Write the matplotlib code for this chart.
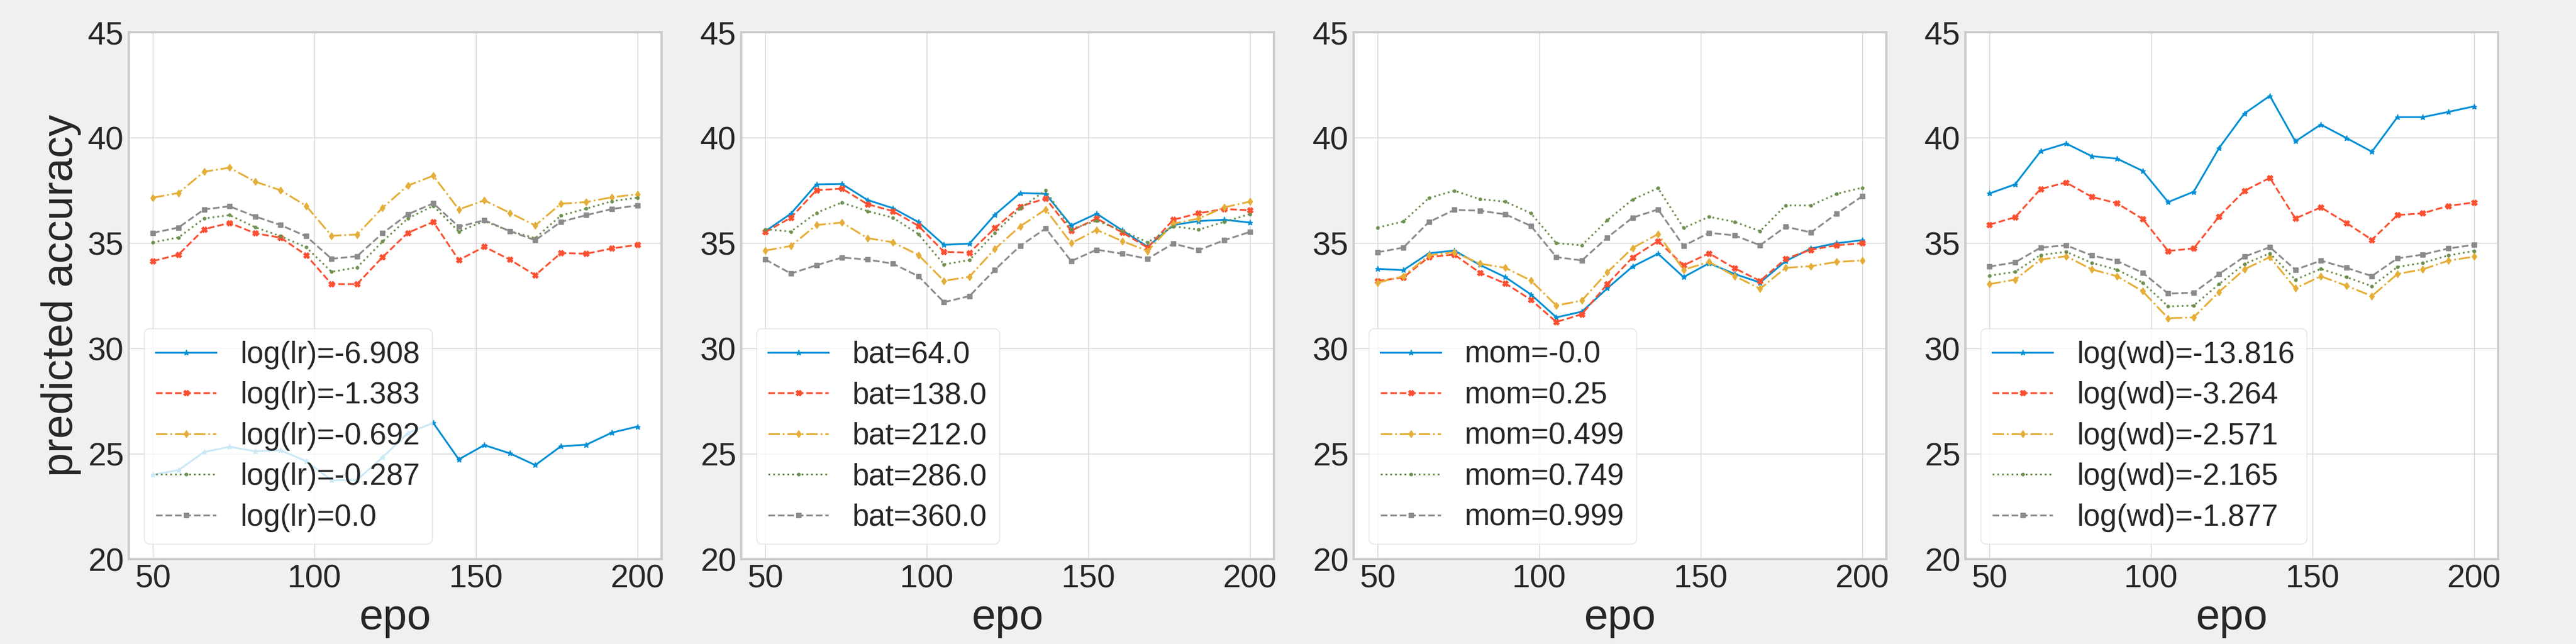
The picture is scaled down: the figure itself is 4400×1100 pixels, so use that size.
import matplotlib
matplotlib.use("Agg")
import matplotlib.pyplot as plt

plt.rcParams['font.family'] = ['Liberation Sans', 'DejaVu Sans']

epochs = [50, 57.9, 65.8, 73.7, 81.6, 89.5, 97.4, 105.3, 113.2, 121.1,
          128.9, 136.8, 144.7, 152.6, 160.5, 168.4, 176.3, 184.2, 192.1, 200]

# Panel 1: learning rate
lr_labels = ["log(lr)=-6.908", "log(lr)=-1.383", "log(lr)=-0.692", "log(lr)=-0.287", "log(lr)=0.0"]
lr_m6908 = [24.01, 24.22, 25.08, 25.33, 25.12, 25.16, 24.65, 23.74, 23.76, 24.83,
            25.98, 26.46, 24.73, 25.41, 25.02, 24.46, 25.35, 25.43, 26.00, 26.29]
lr_m1383 = [34.14, 34.45, 35.65, 35.95, 35.46, 35.25, 34.43, 33.05, 33.05, 34.33,
            35.48, 36.00, 34.19, 34.82, 34.21, 33.47, 34.52, 34.49, 34.74, 34.91]
lr_m0692 = [37.15, 37.37, 38.38, 38.57, 37.91, 37.50, 36.76, 35.34, 35.40, 36.67,
            37.72, 38.19, 36.59, 37.02, 36.43, 35.83, 36.86, 36.94, 37.17, 37.31]
lr_m0287 = [35.03, 35.26, 36.16, 36.32, 35.75, 35.32, 34.80, 33.63, 33.84, 35.07,
            36.16, 36.76, 35.54, 36.04, 35.56, 35.23, 36.30, 36.63, 36.98, 37.15]
lr_0 = [35.48, 35.73, 36.59, 36.74, 36.26, 35.85, 35.32, 34.25, 34.37, 35.46,
        36.36, 36.88, 35.77, 36.08, 35.56, 35.13, 36.00, 36.32, 36.61, 36.78]

# Panel 2: batch size
bat_labels = ["bat=64.0", "bat=138.0", "bat=212.0", "bat=286.0", "bat=360.0"]
bat_64 = [35.56, 36.39, 37.78, 37.80, 37.04, 36.65, 35.99, 34.91, 34.97, 36.34,
          37.37, 37.33, 35.83, 36.39, 35.60, 34.82, 35.85, 36.04, 36.10, 35.97]
bat_138 = [35.52, 36.20, 37.50, 37.58, 36.84, 36.51, 35.81, 34.58, 34.54, 35.71,
           36.73, 37.11, 35.58, 36.16, 35.50, 34.78, 36.10, 36.41, 36.61, 36.55]
bat_212 = [34.64, 34.86, 35.85, 35.97, 35.23, 35.03, 34.43, 33.20, 33.40, 34.72,
           35.79, 36.59, 34.99, 35.62, 35.09, 34.62, 35.91, 36.16, 36.69, 36.96]
bat_286 = [35.65, 35.54, 36.43, 36.92, 36.51, 36.20, 35.42, 33.98, 34.19, 35.48,
           36.63, 37.50, 35.65, 36.06, 35.58, 35.03, 35.79, 35.63, 36.00, 36.37]
bat_360 = [34.21, 33.55, 33.94, 34.31, 34.21, 34.02, 33.42, 32.19, 32.48, 33.73,
           34.86, 35.69, 34.14, 34.68, 34.49, 34.25, 34.97, 34.66, 35.13, 35.52]

# Panel 3: momentum
mom_labels = ["mom=-0.0", "mom=0.25", "mom=0.499", "mom=0.749", "mom=0.999"]
mom_0 = [33.77, 33.71, 34.51, 34.64, 33.96, 33.38, 32.56, 31.47, 31.74, 32.85,
         33.88, 34.49, 33.38, 34.04, 33.53, 33.12, 34.14, 34.74, 34.99, 35.13]
mom_025 = [33.20, 33.36, 34.33, 34.45, 33.59, 33.08, 32.31, 31.25, 31.62, 33.05,
           34.31, 35.09, 33.94, 34.51, 33.80, 33.20, 34.25, 34.68, 34.89, 34.99]
mom_0499 = [33.12, 33.42, 34.41, 34.56, 34.02, 33.82, 33.22, 32.03, 32.27, 33.61,
            34.76, 35.42, 33.73, 34.10, 33.43, 32.83, 33.82, 33.90, 34.10, 34.17]
mom_0749 = [35.73, 36.02, 37.13, 37.48, 37.08, 36.96, 36.41, 34.99, 34.89, 36.08,
            37.06, 37.60, 35.71, 36.24, 36.00, 35.56, 36.78, 36.78, 37.33, 37.62]
mom_0999 = [34.56, 34.78, 35.99, 36.57, 36.53, 36.36, 35.81, 34.33, 34.17, 35.26,
            36.20, 36.59, 34.86, 35.48, 35.36, 34.89, 35.77, 35.50, 36.39, 37.21]

# Panel 4: weight decay
wd_labels = ["log(wd)=-13.816", "log(wd)=-3.264", "log(wd)=-2.571", "log(wd)=-2.165", "log(wd)=-1.877"]
wd_m13816 = [37.35, 37.78, 39.35, 39.72, 39.12, 39.00, 38.42, 36.94, 37.43, 39.51,
             41.14, 41.98, 39.82, 40.62, 39.98, 39.33, 40.97, 40.97, 41.22, 41.48]
wd_m3264 = [35.87, 36.22, 37.56, 37.87, 37.19, 36.88, 36.14, 34.62, 34.74, 36.26,
            37.47, 38.09, 36.16, 36.69, 35.95, 35.15, 36.32, 36.41, 36.76, 36.92]
wd_m2571 = [33.05, 33.26, 34.21, 34.37, 33.75, 33.42, 32.71, 31.43, 31.47, 32.68,
            33.75, 34.33, 32.85, 33.42, 32.97, 32.48, 33.53, 33.75, 34.16, 34.35]
wd_m2165 = [33.45, 33.63, 34.43, 34.58, 34.06, 33.73, 33.12, 31.99, 32.03, 33.05,
            34.00, 34.51, 33.26, 33.77, 33.38, 32.95, 33.86, 34.06, 34.41, 34.62]
wd_m1877 = [33.88, 34.08, 34.78, 34.89, 34.41, 34.14, 33.59, 32.60, 32.64, 33.53,
            34.35, 34.80, 33.73, 34.16, 33.82, 33.43, 34.27, 34.45, 34.74, 34.91]

panels = [
    (lr_labels, [lr_m6908, lr_m1383, lr_m0692, lr_m0287, lr_0]),
    (bat_labels, [bat_64, bat_138, bat_212, bat_286, bat_360]),
    (mom_labels, [mom_0, mom_025, mom_0499, mom_0749, mom_0999]),
    (wd_labels, [wd_m13816, wd_m3264, wd_m2571, wd_m2165, wd_m1877]),
]

colors = ['#008fd5', '#fc4f30', '#e5ae38', '#6d904f', '#8b8b8b']
styles = ['-', '--', '-.', ':', '--']
markers = ['*', 'X', 'd', 'o', 's']
msizes = [6.5, 6.5, 6.5, 3.5, 6]

text_color = '#262626'
fig = plt.figure(figsize=(44, 11), dpi=100, facecolor='#f0f0f0')

W, H = 4400, 1100
lefts = [220, 1266, 2312, 3357]
aw, top, bottom = 910, 55, 955

for i, (labels, series) in enumerate(panels):
    ax = fig.add_axes([lefts[i] / W, 1 - bottom / H, aw / W, (bottom - top) / H])
    ax.set_facecolor('white')
    for j, (lab, ys) in enumerate(zip(labels, series)):
        ax.plot(epochs, ys, color=colors[j], linestyle=styles[j], marker=markers[j],
                markersize=msizes[j], linewidth=2.2, label=lab)
    ax.set_ylim(20, 45)
    ax.set_yticks([20, 25, 30, 35, 40, 45])
    ax.set_xticks([50, 100, 150, 200])
    ax.grid(True, color='#d4d4d4', linewidth=1.0)
    ax.set_axisbelow(True)
    for sp in ax.spines.values():
        sp.set_color('#cccccc')
        sp.set_linewidth(2.8)
    ax.tick_params(axis='both', length=0, pad=6, labelsize=40, colors=text_color)
    ax.set_xlabel('epo', fontsize=53, color=text_color, labelpad=4)
    if i == 0:
        ax.set_ylabel('predicted accuracy', fontsize=53, color=text_color, labelpad=8)
    leg = ax.legend(loc='lower left', fontsize=37, frameon=True, framealpha=0.8,
                    fancybox=True, handlelength=2.0, borderaxespad=0.5,
                    labelspacing=0.4, borderpad=0.4)
    leg.get_frame().set_edgecolor('#dddddd')
    leg.get_frame().set_facecolor('white')
    for t in leg.get_texts():
        t.set_color(text_color)

fig.savefig('out.png', dpi=100, facecolor=fig.get_facecolor())
